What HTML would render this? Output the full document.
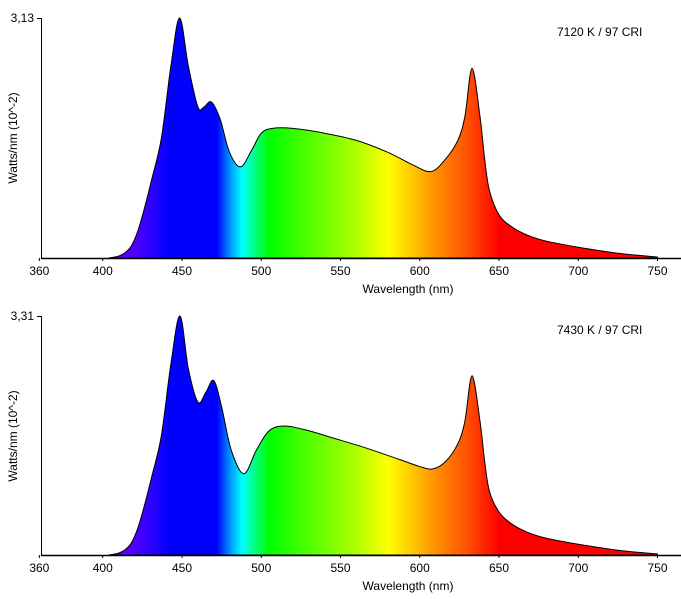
<!DOCTYPE html>
<html><head><meta charset="utf-8">
<style>
html,body{margin:0;padding:0;background:#fff;}
svg{display:block;}
text{font-family:"Liberation Sans",sans-serif;font-size:12px;fill:#000;}
</style></head>
<body>
<svg id="s" width="681" height="599" viewBox="0 0 681 599" xmlns="http://www.w3.org/2000/svg">
<defs>
<linearGradient id="g" gradientUnits="userSpaceOnUse" x1="103" y1="0" x2="657" y2="0">
</linearGradient>
</defs>
</svg>
<script>
var NS="http://www.w3.org/2000/svg";
var svg=document.getElementById('s');
function X(l){return 182+(l-450)*1.585;}
var stops=[[400,'#7000ff'],[415,'#5a00ff'],[430,'#3000ff'],[442,'#0000ff'],[472,'#0000ff'],[480,'#0090ff'],[488,'#00ffff'],[496,'#00ff80'],[505,'#00ff00'],[530,'#50ff00'],[560,'#b0ff00'],[580,'#ffff00'],[595,'#ffc800'],[610,'#ff9000'],[630,'#ff5000'],[650,'#ff0000'],[760,'#ff0000']];
var g=document.getElementById('g');
var x1=X(400),x2=X(760);
g.setAttribute('x1',x1);g.setAttribute('x2',x2);
stops.forEach(function(s){var e=document.createElementNS(NS,'stop');e.setAttribute('offset',((X(s[0])-x1)/(x2-x1)).toFixed(4));e.setAttribute('stop-color',s[1]);g.appendChild(e);});
function el(n,a,t){var e=document.createElementNS(NS,n);for(var k in a)e.setAttribute(k,a[k]);if(t)e.textContent=t;svg.appendChild(e);return e;}
function chart(base,top,label,lab,pts){
  var h=base-top;
  el('line',{x1:41.5,y1:top,x2:41.5,y2:base+0.5,stroke:'#000','stroke-width':1});
  el('line',{x1:37,y1:top+0.5,x2:41.5,y2:top+0.5,stroke:'#000','stroke-width':1});
  var P=pts.map(function(p){return [X(p[0]),base-p[1]*h];});
  var d='M'+P[0][0]+','+base+' L'+P[0][0]+','+P[0][1];
  for(var i=0;i<P.length-1;i++){
    var p0=P[Math.max(i-1,0)],p1=P[i],p2=P[i+1],p3=P[Math.min(i+2,P.length-1)];
    var c1x=p1[0]+(p2[0]-p0[0])/6,c1y=p1[1]+(p2[1]-p0[1])/6;
    var c2x=p2[0]-(p3[0]-p1[0])/6,c2y=p2[1]-(p3[1]-p1[1])/6;
    c1y=Math.min(c1y,base);c2y=Math.min(c2y,base);
    d+=' C'+c1x.toFixed(2)+','+c1y.toFixed(2)+' '+c2x.toFixed(2)+','+c2y.toFixed(2)+' '+p2[0].toFixed(2)+','+p2[1].toFixed(2);
  }
  d+=' L'+P[P.length-1][0]+','+base+' Z';
  el('path',{d:d,fill:'url(#g)',stroke:'#000','stroke-width':1,'stroke-linejoin':'round'});
  el('line',{x1:41,y1:base+0.5,x2:681,y2:base+0.5,stroke:'#000','stroke-width':1.5});
  [360,400,450,500,550,600,650,700,750].forEach(function(l){
    el('line',{x1:X(l),y1:base,x2:X(l),y2:base+3,stroke:'#000','stroke-width':1});
    el('text',{x:X(l),y:base+17,'text-anchor':'middle'},''+l);
  });
  el('text',{x:408,y:base+35,'text-anchor':'middle'},'Wavelength (nm)');
  el('text',{x:34,y:top+4,'text-anchor':'end'},lab);
  el('text',{x:557,y:top+18},label);
  el('text',{x:0,y:0,'text-anchor':'middle',transform:'translate(17,'+(top+120)+') rotate(-90)'},'Watts/nm (10^-2)');
}
function red(pk){var s=pk/0.79;return [[616,0.41*s],[624,0.49*s],[628.5,0.59*s],[633,pk],[638,0.59*s],[641,0.41*s],[644,0.28*s],[650,0.18],[658,0.13],[668,0.095],[680,0.07],[700,0.045],[725,0.02],[750,0.004]];}
var left=[[404,0],[410,0.008],[414,0.022],[418,0.05],[422,0.11],[426,0.2],[431,0.33],[437,0.5],[443,0.8]];
chart(258,18,'7120 K / 97 CRI','3,13',left.concat([[448.5,1.0],[454,0.8],[460,0.63],[464,0.63],[468.5,0.65],[474,0.58],[480,0.44],[487,0.38],[494,0.45],[500,0.52],[507,0.54],[520,0.54],[540,0.52],[560,0.49],[580,0.44],[595,0.39],[607,0.36]]).concat(red(0.79)));
chart(555,316,'7430 K / 97 CRI','3,31',left.concat([[448.7,1.0],[454,0.78],[460,0.64],[465,0.68],[470,0.73],[475,0.62],[481,0.44],[489,0.34],[497,0.44],[505,0.52],[515,0.54],[530,0.52],[545,0.49],[565,0.45],[587,0.4],[600,0.37],[608,0.36]]).concat(red(0.75)));
</script>
</body></html>
